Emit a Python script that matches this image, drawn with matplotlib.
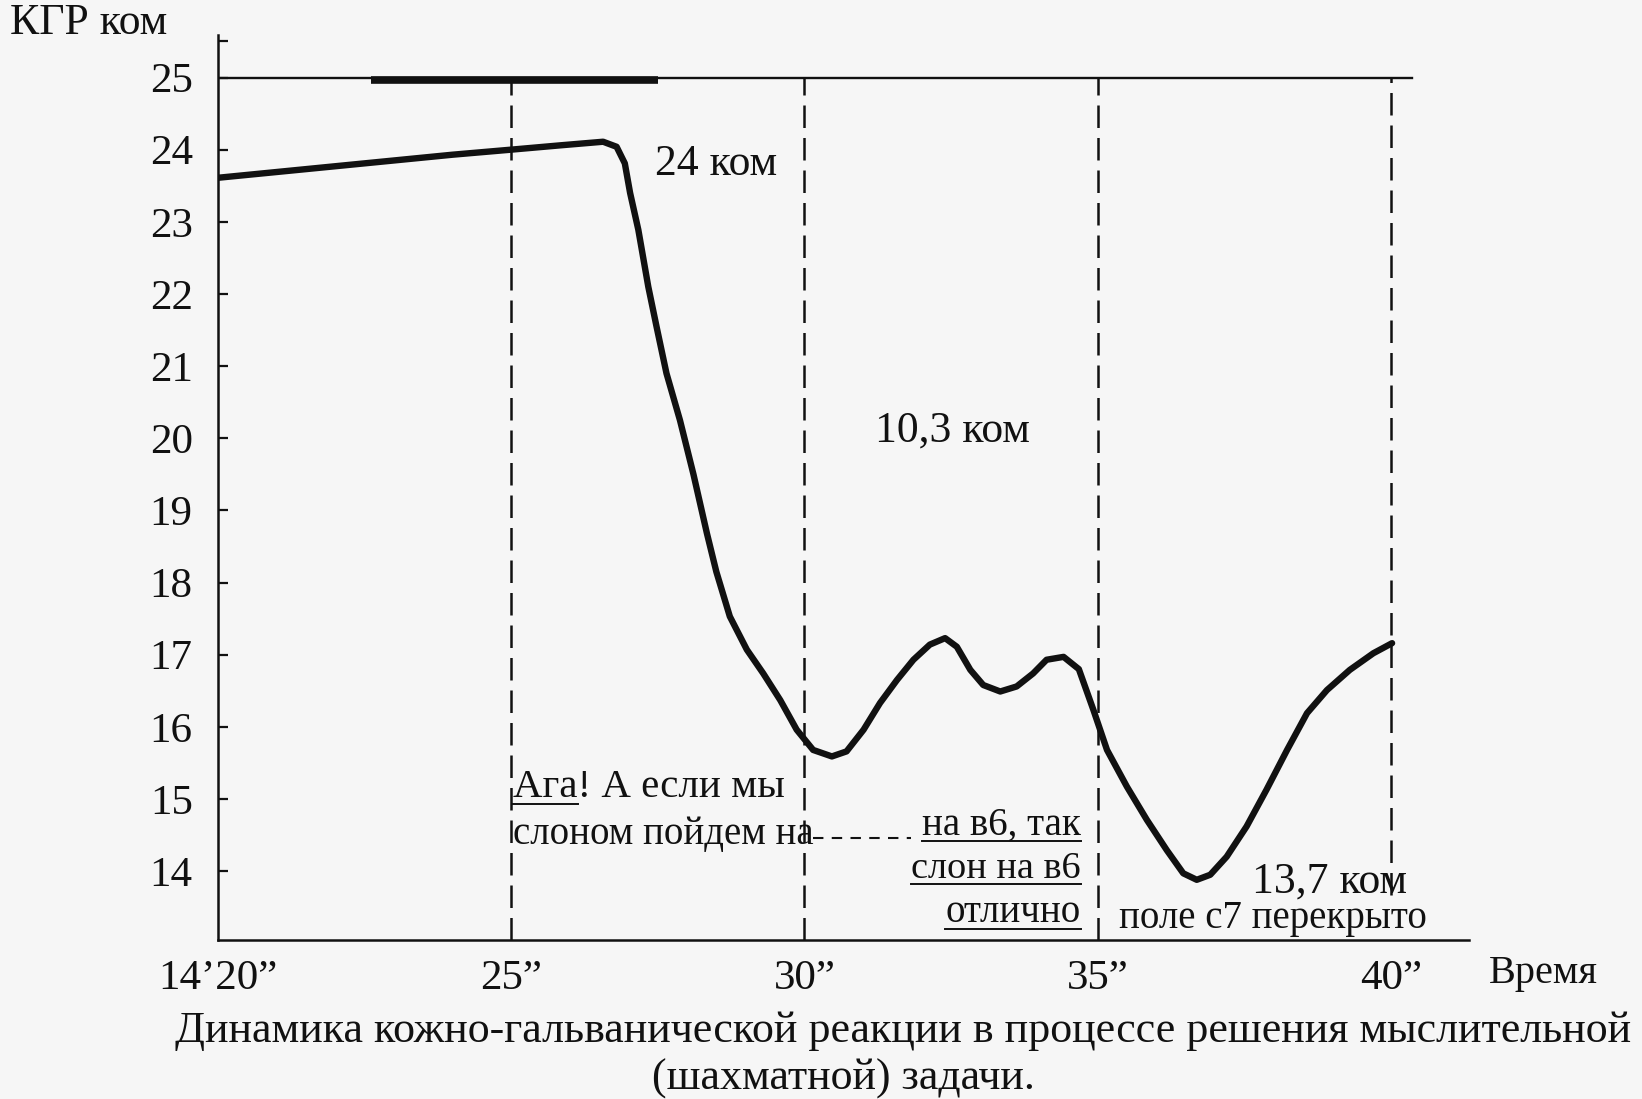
import matplotlib
matplotlib.use("Agg")
import matplotlib.pyplot as plt
from matplotlib.lines import Line2D

# ---- data ----
time_s = [20.0, 21.0, 22.0, 23.0, 24.0, 25.0, 25.84, 26.57, 26.80, 26.94, 27.03, 27.17,
          27.34, 27.48, 27.65, 27.88, 28.11, 28.34, 28.50, 28.73, 29.02, 29.30, 29.59,
          29.87, 30.15, 30.47, 30.72, 31.01, 31.29, 31.58, 31.86, 32.14, 32.40, 32.60,
          32.83, 33.05, 33.34, 33.62, 33.90, 34.13, 34.42, 34.68, 34.93, 35.16, 35.50,
          35.84, 36.18, 36.46, 36.69, 36.92, 37.20, 37.54, 37.88, 38.23, 38.57, 38.91,
          39.30, 39.70, 40.02]
kgr = [23.61, 23.69, 23.77, 23.85, 23.93, 24.0, 24.06, 24.11, 24.04, 23.81, 23.40, 22.89,
       22.10, 21.55, 20.90, 20.25, 19.50, 18.68, 18.15, 17.53, 17.07, 16.74, 16.37,
       15.96, 15.68, 15.59, 15.66, 15.96, 16.33, 16.65, 16.93, 17.14, 17.23, 17.11,
       16.79, 16.58, 16.49, 16.56, 16.74, 16.93, 16.97, 16.80, 16.23, 15.68, 15.17,
       14.71, 14.29, 13.97, 13.88, 13.95, 14.20, 14.62, 15.13, 15.68, 16.19, 16.51,
       16.79, 17.02, 17.16]
x_tick_pos = [20, 25, 30, 35, 40]
x_tick_labels = ["14’20”", "25”", "30”", "35”", "40”"]
y_ticks = list(range(14, 26))
phase_marks = [25, 30, 35, 40]
phase_bottoms = [None, None, None, 13.67]
baseline_level = 25.0
baseline_end = 40.36
bar_start, bar_end, bar_level = 22.62, 27.5, 24.96

plt.rcParams['font.family'] = ['Liberation Serif', 'DejaVu Serif']
INK = '#111111'
BG = '#f6f6f6'

fig = plt.figure(figsize=(16.42, 10.99), dpi=100, facecolor=BG)
ax = fig.add_axes([0.1326, 0.1443, 0.762, 0.8239])
ax.set_facecolor(BG)
ax.set_xlim(20, 41.33)
ax.set_ylim(13.04, 25.59)

for s in ['top', 'right']:
    ax.spines[s].set_visible(False)
for s in ['left', 'bottom']:
    ax.spines[s].set_linewidth(1.8)
    ax.spines[s].set_color(INK)

fs_tick = 31
ax.set_yticks(y_ticks)
ax.set_yticklabels([str(v) for v in y_ticks])
ax.set_yticks([25.5], minor=True)
ax.tick_params(axis='y', which='both', direction='in', length=7, width=1.6,
               colors=INK, labelsize=fs_tick, pad=18)
ax.set_xticks(x_tick_pos)
ax.set_xticklabels(x_tick_labels)
ax.tick_params(axis='x', length=0, labelsize=fs_tick, pad=14, colors=INK)

# baseline at 25 and thick bar
ax.plot([20, baseline_end], [baseline_level, baseline_level], color=INK, lw=1.7)
ax.plot([bar_start, bar_end], [bar_level, bar_level], color=INK, lw=5.5, solid_capstyle='butt')

# dashed phase lines
ylo = ax.get_ylim()[0]
for xm, b in zip(phase_marks, phase_bottoms):
    bottom = ylo if b is None else b
    ax.plot([xm, xm], [bottom, baseline_level], color=INK, lw=1.8,
            linestyle=(0, (9, 4)))

# main curve
ax.plot(time_s, kgr, color=INK, lw=4.6, solid_capstyle='round', solid_joinstyle='round')

# dashed connector
ax.plot([30.15, 31.82], [14.46, 14.46], color=INK, lw=1.5, linestyle=(0, (5, 4)))

ax.text(27.45, 23.8, "24 ком", fontsize=31.5, va='center', ha='left', color=INK)
ax.text(31.2, 20.11, "10,3 ком", fontsize=31.5, va='center', ha='left', color=INK)
t_aga = ax.text(25.04, 15.16, "Ага! А если мы", fontsize=29.5, va='center', ha='left', color=INK)
ax.text(25.04, 14.51, "слоном пойдем на", fontsize=28, va='center', ha='left', color=INK)
u1 = ax.text(34.71, 14.64, "на в6, так", fontsize=28, va='center', ha='right', color=INK)
u2 = ax.text(34.71, 14.03, "слон на в6", fontsize=27.5, va='center', ha='right', color=INK)
u3 = ax.text(34.71, 13.42, "отлично", fontsize=28, va='center', ha='right', color=INK)
ax.text(37.63, 13.85, "13,7 ком", fontsize=31.5, va='center', ha='left', color=INK)
ax.text(35.36, 13.35, "поле с7 перекрыто", fontsize=28, va='center', ha='left', color=INK)

fig.text(10 / 1642, 1 - 23 / 1099, "КГР ком", fontsize=31.5, va='center', ha='left', color=INK)
fig.text(1489 / 1642, 1 - 974 / 1099, "Время", fontsize=29, va='center', ha='left', color=INK)
fig.text(903 / 1642, 1 - 1031 / 1099,
         "Динамика кожно-гальванической реакции в процессе решения мыслительной",
         fontsize=31.7, va='center', ha='center', color=INK)
fig.text(843 / 1642, 1 - 1079 / 1099, "(шахматной) задачи.",
         fontsize=31.7, va='center', ha='center', color=INK)

# underlines
fig.canvas.draw()
r = fig.canvas.get_renderer()
def underline(txt, sub=None):
    bb = txt.get_window_extent(r)
    x0, x1 = bb.x0, bb.x1
    if sub is not None:
        tmp = ax.text(*txt.get_position(), sub, fontsize=txt.get_fontsize(),
                      va='center', ha='left')
        sb = tmp.get_window_extent(r)
        x1 = sb.x1
        tmp.remove()
    y = bb.y0 + 2
    fig.add_artist(Line2D([x0 / fig.bbox.width, x1 / fig.bbox.width],
                          [y / fig.bbox.height, y / fig.bbox.height],
                          color=INK, lw=1.4))
underline(t_aga, "Ага")
for t in (u1, u2, u3):
    underline(t)

fig.savefig("out.png", dpi=100, facecolor=BG)
